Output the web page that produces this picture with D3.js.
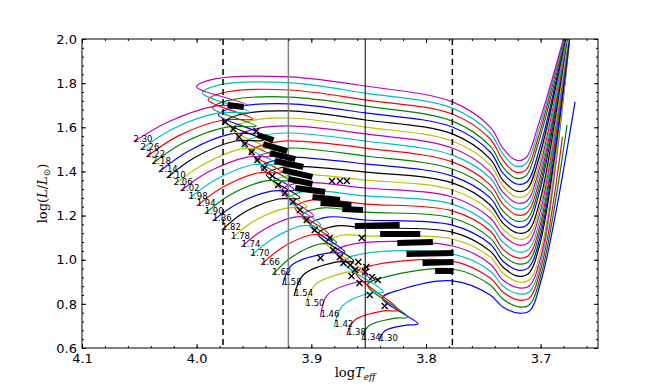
<!DOCTYPE html>
<html>
<head>
<meta charset="utf-8">
<script src="https://cdn.jsdelivr.net/npm/d3@7"></script>
<style>
  body { margin: 0; background: #fff; }
  text { font-family: "DejaVu Sans", sans-serif; }
</style>
</head>
<body>
<svg id="chart" width="664" height="388"></svg>
<script>
// masses of the tracks, top (most massive) first
const masses = [2.30, 2.26, 2.22, 2.18, 2.14, 2.10, 2.06, 2.02, 1.98, 1.94, 1.90, 1.86, 1.82,
  1.78, 1.74, 1.70, 1.66, 1.62, 1.58, 1.54, 1.50, 1.46, 1.42, 1.38, 1.34, 1.30]

// ZAMS (where each label sits)
const zamsT = [4.055, 4.049, 4.044, 4.039, 4.033, 4.026, 4.020, 4.014, 4.007, 4.000, 3.993, 3.986, 3.978,
  3.970, 3.961, 3.953, 3.944, 3.934, 3.925, 3.915, 3.905, 3.892, 3.880, 3.869, 3.856, 3.841]
const zamsL = [1.533, 1.497, 1.465, 1.434, 1.397, 1.370, 1.339, 1.311, 1.275, 1.243, 1.207, 1.175, 1.135,
  1.094, 1.058, 1.017, 0.976, 0.931, 0.885, 0.836, 0.790, 0.740, 0.695, 0.659, 0.636, 0.632]
// two points along the main sequence
const ms1T = [4.025, 4.021, 4.016, 4.012, 4.007, 4.001, 3.995, 3.990, 3.984, 3.977, 3.971, 3.965, 3.958,
  3.950, 3.942, 3.934, 3.926, 3.917, 3.917, 3.907, 3.897, 3.886, 3.873, 3.862, 3.850, 3.836]
const ms1L = [1.624, 1.592, 1.561, 1.529, 1.493, 1.465, 1.429, 1.397, 1.361, 1.329, 1.293, 1.252, 1.216,
  1.175, 1.135, 1.094, 1.053, 1.012, 0.976, 0.931, 0.885, 0.840, 0.790, 0.727, 0.700, 0.677]
const ms2T = [3.984, 3.981, 3.977, 3.974, 3.970, 3.966, 3.961, 3.956, 3.952, 3.947, 3.940, 3.935, 3.929,
  3.922, 3.915, 3.909, 3.901, 3.893, 3.886, 3.878, 3.869, 3.860, 3.849, 3.837, 3.827, 3.817]
const ms2L = [1.696, 1.665, 1.633, 1.601, 1.570, 1.538, 1.502, 1.465, 1.429, 1.393, 1.357, 1.311, 1.275,
  1.234, 1.193, 1.153, 1.112, 1.071, 1.030, 0.990, 0.944, 0.899, 0.849, 0.768, 0.735, 0.704]
// turn-off (coolest MS point)
const toT = [3.956, 3.954, 3.951, 3.948, 3.946, 3.942, 3.939, 3.934, 3.930, 3.926, 3.920, 3.915, 3.910,
  3.904, 3.898, 3.892, 3.885, 3.878, 3.871, 3.863, 3.855, 3.847, 3.837, 3.824, 3.816, 3.807]
const toL = [1.701, 1.669, 1.638, 1.606, 1.574, 1.542, 1.506, 1.470, 1.434, 1.397, 1.361, 1.316, 1.280,
  1.239, 1.198, 1.157, 1.116, 1.076, 1.035, 0.994, 0.949, 0.904, 0.854, 0.772, 0.740, 0.709]
// hook (hottest point after the turn-off)
const cuspT = [4.000, 3.995, 3.990, 3.986, 3.981, 3.975, 3.970, 3.965, 3.960, 3.954, 3.949, 3.944, 3.939,
  3.933, 3.926, 3.920, 3.914, 3.908, 3.901, 3.894, 3.887, 3.879, 3.872, 3.861, 3.851, 3.838]
const cuspL = [1.783, 1.755, 1.724, 1.687, 1.656, 1.624, 1.592, 1.556, 1.524, 1.488, 1.456, 1.420, 1.384,
  1.348, 1.311, 1.275, 1.234, 1.198, 1.157, 1.116, 1.076, 1.035, 0.990, 0.940, 0.885, 0.826]
const postT = [3.984, 3.980, 3.974, 3.970, 3.965, 3.960, 3.954, 3.949, 3.944, 3.939, 3.933, 3.928, 3.923,
  3.917, 3.911, 3.905, 3.899, 3.892, 3.886, 3.878, 3.872, 3.864, 3.856, 3.845, 3.835, 3.823]
const postL = [1.819, 1.792, 1.760, 1.724, 1.692, 1.660, 1.628, 1.592, 1.561, 1.524, 1.492, 1.456, 1.420,
  1.384, 1.348, 1.311, 1.271, 1.234, 1.193, 1.153, 1.112, 1.071, 1.026, 0.976, 0.922, 0.863]

// Hertzsprung gap crossing, luminosity read at fixed temperatures
const gapT = [3.919, 3.853, 3.777, 3.744, 3.733]
const gapL3919 = [1.828, 1.801, 1.769, 1.737, 1.706, 1.674, 1.642, 1.606, 1.574, 1.538, 1.506, 1.465]
const gapL3853 = [1.787, 1.755, 1.724, 1.696, 1.665, 1.633, 1.601, 1.570, 1.538, 1.506, 1.470, 1.434,
  1.397, 1.361, 1.325, 1.289, 1.252, 1.216, 1.180, 1.144, 1.107]
const gapL3777 = [1.715, 1.687, 1.660, 1.628, 1.601, 1.570, 1.538, 1.506, 1.474, 1.443, 1.411, 1.379, 1.348,
  1.316, 1.284, 1.252, 1.221, 1.189, 1.157, 1.125, 1.094, 1.062, 1.026, 0.994, 0.958, 0.904]
const gapL3744 = [1.601, 1.574, 1.547, 1.515, 1.488, 1.456, 1.429, 1.397, 1.370, 1.339, 1.311, 1.280, 1.248,
  1.221, 1.189, 1.157, 1.130, 1.098, 1.071, 1.039, 1.012, 0.981, 0.949, 0.917, 0.885, 0.840]
const gapL3733 = [1.506, 1.479, 1.452, 1.420, 1.393, 1.361, 1.334, 1.307, 1.280, 1.252, 1.221, 1.193, 1.166,
  1.139, 1.112, 1.080, 1.048, 1.021, 0.994, 0.967, 0.940, 0.908, 0.881, 0.854, 0.822, 0.786]

// base of the red giant branch and the climb
const minT = [3.722, 3.722, 3.722, 3.722, 3.721, 3.721, 3.721, 3.721, 3.721, 3.721, 3.721, 3.721, 3.720,
  3.720, 3.720, 3.720, 3.720, 3.720, 3.720, 3.720, 3.719, 3.719, 3.719, 3.719, 3.719, 3.719]
const minL = [1.452, 1.425, 1.397, 1.370, 1.343, 1.311, 1.284, 1.257, 1.230, 1.203, 1.175, 1.148, 1.121,
  1.094, 1.067, 1.035, 1.008, 0.981, 0.953, 0.926, 0.899, 0.872, 0.845, 0.817, 0.786, 0.758]
const rgb1T = [3.713, 3.713, 3.713, 3.713, 3.712, 3.712, 3.712, 3.712, 3.712, 3.712, 3.712, 3.712, 3.711,
  3.711, 3.711, 3.711, 3.711, 3.711, 3.711, 3.711, 3.710, 3.710, 3.710, 3.710, 3.710, 3.710]
const rgb1L = [1.461, 1.434, 1.406, 1.379, 1.352, 1.320, 1.293, 1.266, 1.239, 1.212, 1.184, 1.157, 1.130,
  1.103, 1.076, 1.044, 1.017, 0.990, 0.962, 0.935, 0.908, 0.881, 0.854, 0.826, 0.795, 0.767]
const rgb2T = [3.702, 3.702, 3.702, 3.702, 3.701, 3.701, 3.701, 3.701, 3.701, 3.701, 3.701, 3.701, 3.700,
  3.700, 3.700, 3.700, 3.700, 3.700, 3.700, 3.700, 3.699, 3.699, 3.699, 3.699, 3.699, 3.699]
const rgb2L = [1.611, 1.584, 1.556, 1.529, 1.502, 1.470, 1.443, 1.416, 1.389, 1.362, 1.334, 1.307, 1.280,
  1.253, 1.226, 1.194, 1.167, 1.140, 1.112, 1.085, 1.058, 1.031, 1.004, 0.976, 0.945, 0.917]
const endT = [3.678, 3.678, 3.678, 3.677, 3.677, 3.677, 3.677, 3.677, 3.676, 3.676, 3.676, 3.676, 3.676,
  3.675, 3.675, 3.675, 3.675, 3.675, 3.674, 3.674, 3.674, 3.674, 3.674, 3.681, 3.677, 3.670]
const endL = [2.04, 2.04, 2.04, 2.04, 2.04, 2.04, 2.04, 2.04, 2.04, 2.04, 2.04, 2.04, 2.04,
  2.04, 2.04, 2.04, 2.04, 2.04, 2.04, 2.04, 2.04, 2.04, 2.04, 1.556, 1.610, 1.715]

// thick black runs of marked models (start / end)
const barT1 = [3.973, 3.947, 3.942, 3.936, 3.932, 3.925, 3.920, 3.914, 3.899, 3.892, 3.873, 3.862, 3.840, 3.825, 3.817, 3.803, 3.792]
const barL1 = [1.701, 1.565, 1.524, 1.483, 1.447, 1.406, 1.366, 1.325, 1.284, 1.257, 1.230, 1.153, 1.116, 1.076, 1.026, 0.985, 0.949]
const barT2 = [3.959, 3.933, 3.921, 3.914, 3.907, 3.899, 3.899, 3.888, 3.875, 3.865, 3.855, 3.823, 3.805, 3.794, 3.776, 3.776, 3.776]
const barL2 = [1.692, 1.542, 1.492, 1.456, 1.420, 1.375, 1.343, 1.307, 1.271, 1.248, 1.225, 1.157, 1.116, 1.080, 1.030, 0.990, 0.949]

// single marked models (x)
const markT = [3.975, 3.968, 3.963, 3.958, 3.952, 3.947, 3.941, 3.934, 3.929, 3.923, 3.916, 3.910, 3.904, 3.897,
  3.884, 3.881, 3.875, 3.872, 3.892, 3.856, 3.858, 3.849, 3.836, 3.882, 3.875, 3.869, 3.948, 3.866, 3.862,
  3.853, 3.847, 3.842, 3.865, 3.852, 3.859]
const markL = [1.624, 1.592, 1.556, 1.524, 1.488, 1.452, 1.416, 1.379, 1.339, 1.302, 1.261, 1.225, 1.180, 1.135,
  1.098, 1.044, 1.012, 0.985, 1.008, 1.098, 0.894, 0.840, 0.790, 1.357, 1.357, 1.357, 1.583, 0.976, 0.953,
  0.944, 0.922, 0.908, 0.926, 0.967, 0.990]

// vertical reference lines
const edgeT = [3.977, 3.920, 3.853, 3.777]
const edgeStyle = [
  { color: '#000', width: 1.5, dash: '6,4' },
  { color: '#808080', width: 1.5, dash: null },
  { color: '#000', width: 1, dash: null },
  { color: '#000', width: 1.5, dash: '6,4' }
]

const xTicks = [4.1, 4.0, 3.9, 3.8, 3.7]
const yTicks = [0.6, 0.8, 1.0, 1.2, 1.4, 1.6, 1.8, 2.0]

const colorCycle = ['#0000ff', '#008000', '#ff0000', '#00bfbf', '#bf00bf', '#bfbf00', '#000000']

const padL = 82, padR = 598, padT = 39, padB = 348

const x = d3.scaleLinear().domain([4.1, 3.65]).range([padL, padR])
const y = d3.scaleLinear().domain([0.6, 2.0]).range([padB, padT])

const svg = d3.select('#chart')

svg.append('defs').append('clipPath')
    .attr('id', 'plotclip')
  .append('rect')
    .attr('x', padL)
    .attr('y', padT)
    .attr('width', padR - padL)
    .attr('height', padB - padT)

function trackPoints(k) {
  const pts = [
    [zamsT[k], zamsL[k]], [ms1T[k], ms1L[k]], [ms2T[k], ms2L[k]], [toT[k], toL[k]],
    [cuspT[k], cuspL[k]], [postT[k], postL[k]]
  ]
  if (k < gapL3919.length) pts.push([gapT[0], gapL3919[k]])
  if (k < gapL3853.length) pts.push([gapT[1], gapL3853[k]])
  pts.push([gapT[2], gapL3777[k]], [gapT[3], gapL3744[k]], [gapT[4], gapL3733[k]])
  pts.push([minT[k], minL[k]], [rgb1T[k], rgb1L[k]], [rgb2T[k], rgb2L[k]], [endT[k], endL[k]])
  return pts
}

const tracks = masses.map((m, k) => ({
  mass: m,
  k: k,
  color: colorCycle[(masses.length - 1 - k) % colorCycle.length],
  pts: trackPoints(k)
})).reverse()   // 1.30 drawn first, as in the original

const line = d3.line()
    .x(d => x(d[0]))
    .y(d => y(d[1]))
    .curve(d3.curveCatmullRom.alpha(0.5))

const plot = svg.append('g').attr('clip-path', 'url(#plotclip)')

plot.selectAll('path.track')
  .data(tracks)
  .join('path')
    .attr('class', 'track')
    .attr('d', d => line(d.pts))
    .attr('fill', 'none')
    .attr('stroke', d => d.color)
    .attr('stroke-width', 1.2)

// vertical lines
plot.selectAll('line.edge')
  .data(edgeT)
  .join('line')
    .attr('class', 'edge')
    .attr('x1', d => x(d))
    .attr('x2', d => x(d))
    .attr('y1', padT)
    .attr('y2', padB)
    .attr('stroke', (d, i) => edgeStyle[i].color)
    .attr('stroke-width', (d, i) => edgeStyle[i].width)
    .attr('stroke-dasharray', (d, i) => edgeStyle[i].dash)

// mass labels at the ZAMS
plot.selectAll('text.mass')
  .data(tracks)
  .join('text')
    .attr('class', 'mass')
    .attr('x', d => x(zamsT[d.k]))
    .attr('y', d => y(zamsL[d.k]))
    .attr('font-size', 8.5)
    .attr('fill', '#000')
    .text(d => d.mass.toFixed(2))

// bars of marked models
plot.selectAll('line.bar')
  .data(barT1)
  .join('line')
    .attr('class', 'bar')
    .attr('x1', (d, i) => x(barT1[i]))
    .attr('y1', (d, i) => y(barL1[i]))
    .attr('x2', (d, i) => x(barT2[i]))
    .attr('y2', (d, i) => y(barL2[i]))
    .attr('stroke', '#000')
    .attr('stroke-width', 6)

plot.selectAll('path.mark')
  .data(markT)
  .join('path')
    .attr('class', 'mark')
    .attr('transform', (d, i) => `translate(${x(markT[i])},${y(markL[i])})`)
    .attr('d', 'M-3,-3L3,3M-3,3L3,-3')
    .attr('stroke', '#000')
    .attr('stroke-width', 1.4)

// axes, ticks pointing inward on all four sides
function styleAxis(g) {
  g.select('.domain').remove()
  g.selectAll('line').attr('stroke', '#000')
  g.selectAll('text').attr('font-size', 13).attr('fill', '#000')
}

const xMinor = d3.range(0, 23).map(i => +(4.1 - i * 0.02).toFixed(2))
const yMinor = d3.range(0, 36).map(i => +(0.6 + i * 0.04).toFixed(2))

svg.append('g')
    .attr('transform', `translate(0,${padB})`)
    .call(d3.axisBottom(x).tickValues(xMinor).tickSize(-2).tickFormat(''))
    .call(styleAxis)
svg.append('g')
    .attr('transform', `translate(0,${padT})`)
    .call(d3.axisTop(x).tickValues(xMinor).tickSize(-2).tickFormat(''))
    .call(styleAxis)
svg.append('g')
    .attr('transform', `translate(${padL},0)`)
    .call(d3.axisLeft(y).tickValues(yMinor).tickSize(-2).tickFormat(''))
    .call(styleAxis)
svg.append('g')
    .attr('transform', `translate(${padR},0)`)
    .call(d3.axisRight(y).tickValues(yMinor).tickSize(-2).tickFormat(''))
    .call(styleAxis)

svg.append('g')
    .attr('transform', `translate(0,${padB})`)
    .call(d3.axisBottom(x).tickValues(xTicks).tickSize(-4).tickPadding(6).tickFormat(d3.format('.1f')))
    .call(styleAxis)
svg.append('g')
    .attr('transform', `translate(0,${padT})`)
    .call(d3.axisTop(x).tickValues(xTicks).tickSize(-4).tickFormat(''))
    .call(styleAxis)
svg.append('g')
    .attr('transform', `translate(${padL},0)`)
    .call(d3.axisLeft(y).tickValues(yTicks).tickSize(-4).tickPadding(5).tickFormat(d3.format('.1f')))
    .call(styleAxis)
svg.append('g')
    .attr('transform', `translate(${padR},0)`)
    .call(d3.axisRight(y).tickValues(yTicks).tickSize(-4).tickFormat(''))
    .call(styleAxis)

svg.append('rect')
    .attr('x', padL)
    .attr('y', padT)
    .attr('width', padR - padL)
    .attr('height', padB - padT)
    .attr('fill', 'none')
    .attr('stroke', '#000')
    .attr('stroke-width', 1)

// axis titles
const xTitle = svg.append('text')
    .attr('x', 355)
    .attr('y', 377)
    .attr('text-anchor', 'middle')
    .attr('font-size', 13)
    .style('font-family', '"DejaVu Serif", serif')
xTitle.append('tspan').text('log')
xTitle.append('tspan').attr('font-style', 'italic').text('T')
xTitle.append('tspan').attr('font-style', 'italic').attr('font-size', 9).attr('dy', 3).text('eff')

const yTitle = svg.append('text')
    .attr('transform', `translate(47,${(padT + padB) / 2}) rotate(-90)`)
    .attr('text-anchor', 'middle')
    .attr('font-size', 13)
    .style('font-family', '"DejaVu Serif", serif')
yTitle.append('tspan').text('log(')
yTitle.append('tspan').attr('font-style', 'italic').text('L')
yTitle.append('tspan').text('/')
yTitle.append('tspan').attr('font-style', 'italic').text('L')
yTitle.append('tspan').attr('font-size', 9).attr('dy', 3).text('⊙')
yTitle.append('tspan').attr('dy', -3).text(')')
</script>
</body>
</html>
